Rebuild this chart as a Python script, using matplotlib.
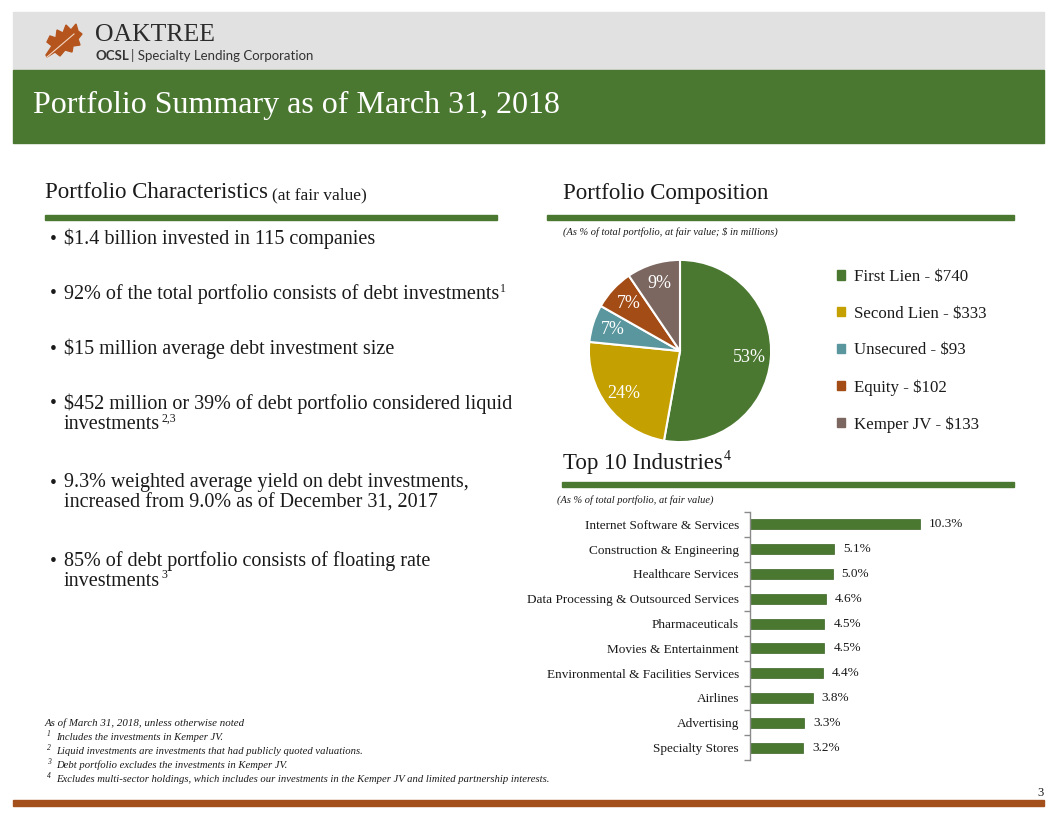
import matplotlib.pyplot as plt
from matplotlib.patches import Rectangle, Patch, Polygon

# pie data ($ in millions)
comp_labels = ['First Lien', 'Second Lien', 'Unsecured', 'Equity', 'Kemper JV']
comp_values = [740, 333, 93, 102, 133]
comp_colors = ['#4b7831', '#c4a000', '#5a969e', '#a34c16', '#7b6760']

# top 10 industries (% of total portfolio)
industries = ['Internet Software & Services', 'Construction & Engineering', 'Healthcare Services',
              'Data Processing & Outsourced Services', 'Pharmaceuticals', 'Movies & Entertainment',
              'Environmental & Facilities Services', 'Airlines', 'Advertising', 'Specialty Stores']
industry_pct = [10.3, 5.1, 5.0, 4.6, 4.5, 4.5, 4.4, 3.8, 3.3, 3.2]

bullets = [
    ('$1.4 billion invested in 115 companies', ''),
    ('92% of the total portfolio consists of debt investments', '1'),
    ('$15 million average debt investment size', ''),
    ('$452 million or 39% of debt portfolio considered liquid\ninvestments', '2,3'),
    ('9.3% weighted average yield on debt investments,\nincreased from 9.0% as of December 31, 2017', ''),
    ('85% of debt portfolio consists of floating rate\ninvestments', '3'),
]
footnotes = ['Includes the investments in Kemper JV.',
             'Liquid investments are investments that had publicly quoted valuations.',
             'Debt portfolio excludes the investments in Kemper JV.',
             'Excludes multi-sector holdings, which includes our investments in the Kemper JV and limited partnership interests.']

GREEN = '#4b7831'
INK = '#1a1a1a'
SERIF = 'Liberation Serif'
W, H = 1056, 816

fig = plt.figure(figsize=(W / 100, H / 100), dpi=100)
plt.rcParams['font.family'] = SERIF


def fx(x):
    return x / W


def fy(y):
    return 1 - y / H


def txt(x, y, s, **kw):
    kw.setdefault('va', 'center')
    return fig.text(fx(x), fy(y), s, **kw)


def rule(x0, x1, y, h=5, color=GREEN):
    fig.patches.append(Rectangle((fx(x0), fy(y + h / 2)), fx(x1 - x0), h / H,
                                 transform=fig.transFigure, color=color, zorder=1))


# header bands
fig.patches.append(Rectangle((fx(13), fy(70)), fx(1031), 58 / H, transform=fig.transFigure,
                             color='#e1e1e1', zorder=0))
fig.patches.append(Rectangle((fx(13), fy(143)), fx(1031), 73 / H, transform=fig.transFigure,
                             color=GREEN, zorder=0))
rule(13, 1044, 803, h=6, color='#a3501c')

# leaf logo (rough)
leaf = [(46, 55), (52, 46), (47, 42), (50, 36), (56, 38), (57, 30), (63, 33), (66, 25),
        (71, 30), (76, 24), (78, 31), (82, 34), (78, 39), (80, 45), (73, 46), (72, 52),
        (65, 50), (60, 56), (55, 52), (47, 57)]
fig.patches.append(Polygon([(fx(a), fy(b)) for a, b in leaf], closed=True,
                           transform=fig.transFigure, color='#b5541d', zorder=1))
fig.lines.append(plt.Line2D([fx(47), fx(74)], [fy(57), fy(34)], transform=fig.transFigure,
                            color='#f3d9c6', lw=0.8, zorder=2))
txt(95, 35, 'OAKTREE', fontsize=18.5, color='#2b2b2b')
txt(95, 56, 'OCSL', fontsize=9.5, fontweight='bold', color='#333333', family='Lato')
txt(131, 56, '| Specialty Lending Corporation', fontsize=9.5, color='#333333', family='Lato')

txt(33, 105, 'Portfolio Summary as of March 31, 2018', fontsize=23, color='white')

fig.canvas.draw()
renderer = fig.canvas.get_renderer()

# left column
t = txt(45, 193, 'Portfolio Characteristics', fontsize=16.5, color=INK)
x_end = t.get_window_extent(renderer).x1
txt(x_end + 4, 195, '(at fair value)', fontsize=12.5, color=INK)
rule(45, 497, 217)

bullet_y = [237, 292, 347, 402, 481, 559]
for (s, sup), y in zip(bullets, bullet_y):
    txt(50, y + 2, '\u2022', fontsize=14, color=INK)
    for j, line in enumerate(s.split('\n')):
        t = txt(64, y + 2 + j * 20, line, fontsize=14.5, color=INK)
    if sup:
        bb = t.get_window_extent(renderer)
        fig.text((bb.x1 + 1) / W, (bb.y0 + 12) / H, sup, fontsize=8.5, color=INK)

# footnotes
txt(45, 723, 'As of March 31, 2018, unless otherwise noted', fontsize=7.8, style='italic', color=INK)
for i, note in enumerate(footnotes):
    y = 737 + i * 14
    txt(47, y - 3, str(i + 1), fontsize=5.5, style='italic', color=INK)
    txt(56, y, note, fontsize=7.7, style='italic', color=INK)
txt(1044, 793, '3', fontsize=9, ha='right', color=INK)

# right column: composition
txt(563, 194, 'Portfolio Composition', fontsize=16.5, color=INK)
rule(547, 1014, 217)
txt(563, 232, '(As % of total portfolio, at fair value; $ in millions)', fontsize=7.5,
    style='italic', color=INK)

pie_ax = fig.add_axes([fx(588), fy(443), fx(184), 184 / H])
pie_ax.pie(comp_values, colors=comp_colors, startangle=90, counterclock=False,
           autopct='%.0f%%', pctdistance=0.77,
           wedgeprops=dict(edgecolor='white', linewidth=1.5),
           textprops=dict(color='white', fontsize=13))
pie_ax.set_xlim(-1.01, 1.01)
pie_ax.set_ylim(-1.01, 1.01)
pie_ax.set_aspect('equal')

handles = [Patch(color=c) for c in comp_colors]
legend_labels = [f'{n} - ${v}' for n, v in zip(comp_labels, comp_values)]
fig.legend(handles, legend_labels, loc='upper left', bbox_to_anchor=(fx(837), fy(269)),
           frameon=False, fontsize=12.2, handlelength=0.45, handleheight=0.45,
           handletextpad=0.55, labelspacing=1.22, borderaxespad=0, borderpad=0,
           labelcolor=INK)

# top 10 industries
t = txt(563, 464, 'Top 10 Industries', fontsize=16.5, color=INK)
bb = t.get_window_extent(renderer)
fig.text((bb.x1 + 1) / W, (bb.y0 + 15) / H, '4', fontsize=10, color=INK)
rule(562, 1014, 484)
txt(557, 500, '(As % of total portfolio, at fair value)', fontsize=7.5, style='italic', color=INK)

ax = fig.add_axes([fx(750), fy(760), fx(250), 248 / H])
ypos = list(range(len(industries)))
ax.barh(ypos, industry_pct, height=0.4, color=GREEN, edgecolor='#3c6326', linewidth=0.5)
for yv, v in zip(ypos, industry_pct):
    ax.text(v + 0.55, yv, f'{v:.1f}%', va='center', ha='left', fontsize=9.5, color=INK)
ax.set_xlim(0, 15.15)
ax.set_ylim(len(industries) - 0.5, -0.5)
for s in ['top', 'right', 'bottom']:
    ax.spines[s].set_visible(False)
ax.spines['left'].set_color('#8a8a8a')
ax.spines['left'].set_linewidth(1)
ax.set_xticks([])
ax.set_yticks(ypos)
ax.set_yticklabels(industries, fontsize=9.5, color=INK)
ax.tick_params(axis='y', which='major', length=0, pad=8)
ax.set_yticks([i - 0.5 for i in range(len(industries) + 1)], minor=True)
ax.tick_params(axis='y', which='minor', length=4, color='#8a8a8a', width=1)
ax.set_facecolor('none')

fig.savefig('out.png', dpi=100)
